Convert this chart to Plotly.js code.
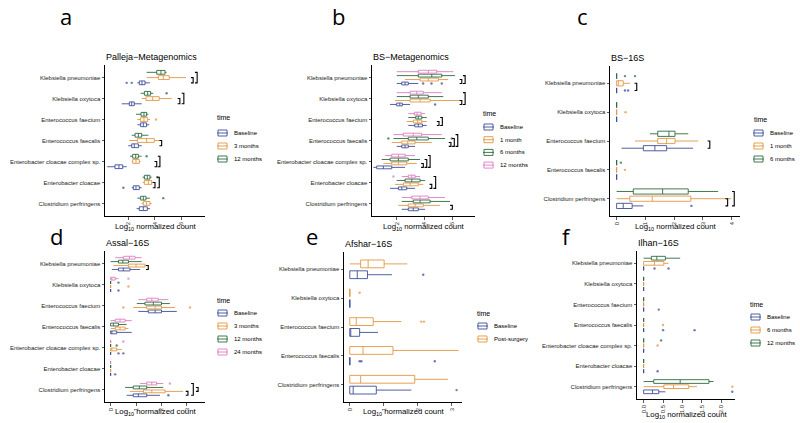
<!DOCTYPE html>
<html><head><meta charset="utf-8">
<script src="https://cdn.plot.ly/plotly-3.0.1.min.js"></script>
<style>html,body{margin:0;padding:0;background:#fff}#chart{width:800px;height:423px}</style>
</head><body><div id="chart"></div>
<script>
// ---------------- categories ----------------
const species7 = ["Klebsiella pneumoniae","Klebsiella oxytoca","Enterococcus faecium","Enterococcus faecalis","Enterobacter cloacae complex sp.","Enterobacter cloacae","Clostridium perfringens"];
const species5 = ["Klebsiella pneumoniae","Klebsiella oxytoca","Enterococcus faecium","Enterococcus faecalis","Clostridium perfringens"];

// box stats per species: [lower whisker, q1, median, q3, upper whisker]  (log10 normalized count)
// ---- a: Palleja-Metagenomics ----
const pallejaGroups = ["Baseline","3 months","12 months"];
const pallejaBaseline = [[2.7,2.85,3.05,3.28,3.65],[1.53,2.1,2.28,2.47,3.03],[2.7,2.95,3.15,3.4,3.6],[2.02,2.28,2.47,2.78,3.03],[0.44,1.02,1.32,1.6,1.9],[2.28,2.4,2.6,2.85,3.03],[2.65,2.85,3.15,3.45,3.65]];
const palleja3Months = [[3.4,4.28,4.65,5.1,6.36],[3.03,3.35,3.86,4.35,5.29],[2.7,2.95,3.2,3.48,3.65],[2.1,2.7,3.4,3.98,4.4],[2.28,2.35,2.6,2.85,2.95],[3.1,3.23,3.53,3.78,4.03],[3.03,3.15,3.4,3.65,3.78]];
const palleja12Months = [[3.4,4.16,4.48,4.78,4.9],[2.95,3.23,3.48,3.7,3.9],[2.6,2.98,3.2,3.4,3.53],[2.28,2.53,2.78,3.03,3.53],[2.15,2.35,2.58,2.78,3.03],[3.1,3.23,3.45,3.65,3.78],[2.7,2.95,3.15,3.35,3.65]];
const pallejaOutlierSpecies = [0,0,1,2,4,5,5,6];
const pallejaOutlierGroup   = [0,0,2,1,2,2,0,2];
const pallejaOutlierValue   = [1.9,2.28,4.9,4.1,3.4,4.2,1.65,4.65];
const pallejaBracketSpecies = [0,0,1,1,3,4,4,5,5];
const pallejaBracketFrom    = [0,0,0,0,0,0,0,0,0];
const pallejaBracketTo      = [1,2,1,2,1,1,2,1,2];
const pallejaBracketValue   = [6.9,7.2,5.9,6.2,4.53,4.16,4.4,4.03,4.35];

// ---- b: BS-Metagenomics ----
const bsMetaGroups = ["Baseline","1 month","6 months","12 months"];
const bsMetaBaseline = [[2.0,2.36,2.6,2.83,3.55],[1.52,2.0,2.22,2.4,2.96],[2.83,3.3,3.55,3.85,4.16],[2.0,2.36,2.6,2.83,3.32],[0.32,0.56,1.04,1.64,2.6],[1.52,2.12,2.36,2.72,3.32],[2.36,2.83,3.19,3.55,4.04]];
const bsMeta1Month = [[2.6,3.68,4.27,5.0,5.7],[1.88,2.96,3.68,4.4,6.68],[2.72,3.19,3.51,3.8,4.16],[1.64,2.36,2.79,3.32,4.52],[1.04,1.64,2.12,2.72,3.44],[1.88,2.47,2.96,3.55,3.91],[2.12,2.83,3.32,3.91,5.12]];
const bsMeta6Months = [[2.0,3.55,4.52,5.24,6.2],[2.0,2.96,3.55,4.27,5.35],[2.83,3.37,3.55,3.8,4.16],[1.76,2.83,3.44,4.27,5.47],[0.92,1.52,2.12,2.83,3.68],[2.0,2.6,3.08,3.68,4.04],[2.36,3.19,3.68,4.4,5.83]];
const bsMeta12Months = [[2.0,3.55,4.27,4.88,6.07],[2.0,2.96,3.44,3.91,5.24],[2.83,3.27,3.46,3.75,4.04],[1.76,2.47,3.19,3.8,5.24],[1.16,1.64,2.12,2.6,3.32],[2.36,2.83,3.08,3.32,3.68],[2.36,3.08,3.68,4.27,5.47]];
const bsMetaOutlierSpecies = [0,0,0,1,3,3,5];
const bsMetaOutlierGroup   = [0,0,0,0,2,2,3];
const bsMetaOutlierValue   = [3.9,4.5,5.24,4.76,1.4,5.96,1.76];
const bsMetaBracketSpecies = [0,0,1,1,2,2,3,3,3,4,4,4,5,5,6];
const bsMetaBracketFrom    = [0,0,0,0,0,0,0,0,0,0,0,0,0,0,0];
const bsMetaBracketTo      = [1,2,1,3,1,2,1,2,3,1,2,3,1,3,1];
const bsMetaBracketValue   = [6.68,6.92,6.68,6.92,5.04,5.28,5.9,6.14,6.39,3.91,4.16,4.4,4.52,4.8,6.0];

// ---- c: BS-16S ----
const bs16Groups = ["Baseline","1 month","6 months"];
const bs16Baseline = [[0,0,0,0,0],[0,0,0,0,0],[0.17,0.93,1.33,1.74,2.66],[0,0,0,0,0],[0,0,0.23,0.54,0.93]];
const bs161Month   = [[0,0,0.06,0.23,0.46],[0,0,0,0,0],[0.64,1.43,1.74,2.03,2.84],[0,0,0,0,0],[0,0.46,1.24,2.58,3.98]];
const bs166Months  = [[0,0,0,0,0],[0,0,0,0,0],[1.16,1.43,1.82,2.03,2.49],[0,0,0,0,0],[0,0.58,1.6,2.49,3.53]];
const bs16OutlierSpecies = [0,0,0,0,1,3,3,4];
const bs16OutlierGroup   = [2,2,0,0,1,2,1,0];
const bs16OutlierValue   = [0.29,0.64,0.29,0.4,0.31,0.15,0.29,2.6];
const bs16BracketSpecies = [0,2,4,4];
const bs16BracketFrom    = [0,0,0,0];
const bs16BracketTo      = [1,1,1,2];
const bs16BracketValue   = [0.7,3.24,3.86,4.09];

// ---- d: Assal-16S ----
const assalGroups = ["Baseline","3 months","12 months","24 months"];
const assalBaseline = [[0.05,0.31,0.5,0.76,1.16],[0,0,0,0,0],[1.09,1.48,1.75,2.0,2.6],[0,0,0.05,0.24,0.83],[0,0,0,0,0],[0,0,0,0,0],[0.63,0.89,1.09,1.42,1.94]];
const assal3Months  = [[0.11,0.7,1.0,1.35,1.42],[0,0,0,0,0],[0.89,1.42,1.75,2.0,2.53],[0,0.18,0.37,0.57,0.7],[0,0,0.05,0.24,0.44],[0,0,0,0,0],[0.76,1.29,1.62,2.14,2.85]];
const assal12Months = [[0,0.31,0.48,0.7,1.22],[0,0,0,0,0],[1.03,1.35,1.68,2.0,2.33],[0,0,0.11,0.31,0.63],[0,0,0,0,0],[0,0,0,0,0],[0.57,0.89,1.13,1.42,2.07]];
const assal24Months = [[0.18,0.5,0.74,0.96,1.22],[0,0,0.05,0.18,0.31],[1.09,1.42,1.62,1.87,2.27],[0,0.18,0.37,0.57,0.83],[0,0,0,0,0],[0,0,0,0,0],[1.16,1.42,1.62,1.81,2.07]];
const assalOutlierSpecies = [1,1,1,1,2,2,4,4,4,4,5,6,6];
const assalOutlierGroup   = [3,2,1,0,1,1,3,2,0,0,0,3,0];
const assalOutlierValue   = [0.7,0.31,0.7,0.31,0.5,3.12,0.5,0.24,0.31,0.5,0.18,2.33,2.27];
const assalBracketSpecies = [0,6,6,6];
const assalBracketFrom    = [0,0,0,1];
const assalBracketTo      = [1,1,3,2];
const assalBracketValue   = [1.48,3.04,3.25,3.44];

// ---- e: Afshar-16S ----
const afsharGroups = ["Baseline","Post-surgery"];
const afsharBaseline    = [[0,0,0.22,0.52,1.24],[0,0,0,0,0],[0,0,0,0.29,0.83],[0,0,0,0,0],[0,0,0.1,0.78,1.81]];
const afsharPostSurgery = [[0,0.32,0.54,1.01,1.69],[0,0,0,0,0],[0,0,0.19,0.69,1.52],[0,0,0.39,1.27,3.2],[0,0,0.32,1.91,2.89]];
const afsharOutlierSpecies = [0,1,2,2,3,3,3,4];
const afsharOutlierGroup   = [0,1,1,1,0,0,0,0];
const afsharOutlierValue   = [2.16,0.29,2.1,2.18,0.29,0.34,2.5,3.14];

// ---- f: Ilhan-16S ----
const ilhanGroups = ["Baseline","6 months","12 months"];
const ilhanBaseline  = [[0,0,0,0,0],[0,0,0,0,0],[0,0,0,0,0],[0,0,0,0,0],[0,0,0,0,0],[0,0,0,0,0],[0,0,0.23,0.39,0.56]];
const ilhan6Months   = [[0,0,0.28,0.52,0.64],[0,0,0,0,0],[0,0,0,0,0],[0,0,0,0,0],[0,0,0,0,0],[0,0,0,0,0],[0,0.52,0.77,1.16,1.37]];
const ilhan12Months  = [[0,0.2,0.34,0.56,0.94],[0,0,0,0,0],[0,0,0,0,0],[0,0,0,0,0],[0,0,0,0,0],[0,0,0,0,0],[0,0.26,0.94,1.68,1.8]];
const ilhanOutlierSpecies = [0,0,2,3,3,3,4,4,5,6,6];
const ilhanOutlierGroup   = [0,0,0,1,0,0,2,1,0,1,0];
const ilhanOutlierValue   = [0.28,0.64,0.39,0.5,0.5,1.31,0.45,0.36,0.36,2.28,2.28];

// ---------------- styling / layout ----------------
const BLUE='#3D4E98', ORANGE='#E59640', GREEN='#2D6B41', PINK='#E07CBF';
const W=800, H=423;
const FONT='"Liberation Sans", Arial, sans-serif';

const panels = [
 {letter:'a', title:'Palleja\u2212Metagenomics', cats:species7, groups:pallejaGroups, colors:[BLUE,ORANGE,GREEN],
  data:[pallejaBaseline,palleja3Months,palleja12Months],
  out:[pallejaOutlierSpecies,pallejaOutlierGroup,pallejaOutlierValue],
  br:[pallejaBracketSpecies,pallejaBracketFrom,pallejaBracketTo,pallejaBracketValue],
  px:[105,205], py:[65,216], range:[0.27,7.79], ticks:[2,4,6], fmt:'d', letterPos:[66,16],
  leg:{title:[215,118], key:217, text:232, y0:133, dy:13}, xlab:11},
 {letter:'b', title:'BS\u2212Metagenomics', cats:species7, groups:bsMetaGroups, colors:[BLUE,ORANGE,GREEN,PINK],
  data:[bsMetaBaseline,bsMeta1Month,bsMeta6Months,bsMeta12Months],
  out:[bsMetaOutlierSpecies,bsMetaOutlierGroup,bsMetaOutlierValue],
  br:[bsMetaBracketSpecies,bsMetaBracketFrom,bsMetaBracketTo,bsMetaBracketValue],
  px:[372,475], py:[65,216], range:[0.22,7.63], ticks:[2,4,6], fmt:'d', letterPos:[338,16],
  leg:{title:[481,113], key:483, text:498, y0:127, dy:12.7}, xlab:11},
 {letter:'c', title:'BS\u221216S', cats:species5, groups:bs16Groups, colors:[BLUE,ORANGE,GREEN],
  data:[bs16Baseline,bs161Month,bs166Months],
  out:[bs16OutlierSpecies,bs16OutlierGroup,bs16OutlierValue],
  br:[bs16BracketSpecies,bs16BracketFrom,bs16BracketTo,bs16BracketValue],
  px:[610,740], py:[66,216], range:[-0.23,4.29], ticks:[0,1,2,3,4], fmt:'d', letterPos:[582,16],
  leg:{title:[752,119], key:753, text:768, y0:133, dy:13}, xlab:11},
 {letter:'d', title:'Assal\u221216S', cats:species7, groups:assalGroups, colors:[BLUE,ORANGE,GREEN,PINK],
  data:[assalBaseline,assal3Months,assal12Months,assal24Months],
  out:[assalOutlierSpecies,assalOutlierGroup,assalOutlierValue],
  br:[assalBracketSpecies,assalBracketFrom,assalBracketTo,assalBracketValue],
  px:[105,205], py:[251,402], range:[-0.22,3.71], ticks:[0,1,2,3], fmt:'d', letterPos:[57,236],
  leg:{title:[215,300], key:217, text:232, y0:313, dy:13}, xlab:10},
 {letter:'e', title:'Afshar\u221216S', cats:species5, groups:afsharGroups, colors:[BLUE,ORANGE],
  data:[afsharBaseline,afsharPostSurgery],
  out:[afsharOutlierSpecies,afsharOutlierGroup,afsharOutlierValue],
  br:null,
  px:[344,462], py:[252,402], range:[-0.17,3.3], ticks:[0,1,2,3], fmt:'d', letterPos:[312,236],
  leg:{title:[475,313], key:477, text:492, y0:326, dy:13}, xlab:10},
 {letter:'f', title:'Ilhan\u221216S', cats:species7, groups:ilhanGroups, colors:[BLUE,ORANGE,GREEN],
  data:[ilhanBaseline,ilhan6Months,ilhan12Months],
  out:[ilhanOutlierSpecies,ilhanOutlierGroup,ilhanOutlierValue],
  br:null,
  px:[637,735], py:[251,399], range:[-0.17,2.35], ticks:[0,0.5,1,1.5,2], fmt:'.1f', letterPos:[566,236],
  leg:{title:[748,304], key:750, text:765, y0:317, dy:13}, xlab:16}
];

const traces=[], annotations=[], shapes=[];
const layout = {width:W, height:H, margin:{l:0,r:0,t:0,b:0}, paper_bgcolor:'#fff', plot_bgcolor:'#fff',
  boxmode:'overlay', font:{family:FONT, color:'#000'}, hovermode:false, showlegend:false};
const PX = x => x/W, PY = y => 1 - y/H;

panels.forEach((p,pi)=>{
  const sfx = pi===0 ? '' : String(pi+1);
  const xa='x'+sfx, ya='y'+sfx;
  const n=p.cats.length, G=p.groups.length;
  const step=0.75/G;
  const pos=(i,g)=> i + ((G-1)/2 - g)*step;
  p.groups.forEach((gname,g)=>{
    const rows=p.data[g];
    traces.push({type:'box', orientation:'h', xaxis:xa, yaxis:ya, name:gname, showlegend:false,
      y: rows.map((r,i)=>pos(i,g)),
      lowerfence: rows.map(r=>r[0]), q1: rows.map(r=>r[1]), median: rows.map(r=>r[2]),
      q3: rows.map(r=>r[3]), upperfence: rows.map(r=>r[4]),
      width: step*0.72, boxpoints:false, whiskerwidth:0,
      fillcolor:'rgba(255,255,255,0.9)', line:{color:p.colors[g], width:0.9}, hoverinfo:'skip'});
  });
  // outliers
  const [oc,og,ov]=p.out;
  traces.push({type:'scatter', mode:'markers', xaxis:xa, yaxis:ya, showlegend:false, hoverinfo:'skip',
    x: ov, y: oc.map((c,k)=>pos(c,og[k])),
    marker:{size:2.4, color: og.map(g=>p.colors[g]), opacity:0.75}});
  // significance brackets
  if(p.br){
    const [bc,bf,bt,bv]=p.br;
    const tick=(p.range[1]-p.range[0])*2.2/(p.px[1]-p.px[0]);
    const bx=[], by=[];
    bc.forEach((c,k)=>{
      const y1=pos(c,bf[k]), y2=pos(c,bt[k]);
      bx.push(bv[k]-tick, bv[k], bv[k], bv[k]-tick, null);
      by.push(y1, y1, y2, y2, null);
    });
    traces.push({type:'scatter', mode:'lines', xaxis:xa, yaxis:ya, showlegend:false, hoverinfo:'skip',
      x:bx, y:by, line:{color:'#000', width:1.1}, connectgaps:false});
  }
  layout['xaxis'+sfx] = {domain:[PX(p.px[0]), PX(p.px[1])], anchor:ya, range:p.range,
    tickmode:'array', tickvals:p.ticks, ticktext:p.ticks.map(v=>p.fmt==='d'?String(v):v.toFixed(1)),
    tickangle:-90, ticks:'outside', ticklen:2.5, tickwidth:0.8, tickcolor:'#333',
    showline:true, linecolor:'#000', linewidth:1, showgrid:false, zeroline:false,
    tickfont:{size:6, color:'#333', family:FONT}, fixedrange:true};
  layout['yaxis'+sfx] = {domain:[PY(p.py[1]), PY(p.py[0])], anchor:xa, range:[n-1+0.6,-0.6],
    tickmode:'array', tickvals:p.cats.map((c,i)=>i), ticktext:p.cats,
    ticks:'outside', ticklen:2.5, tickwidth:0.8, tickcolor:'#333',
    showline:true, linecolor:'#000', linewidth:1, showgrid:false, zeroline:false,
    tickfont:{size:6, color:'#222', family:FONT}, fixedrange:true};
  // legend (drawn as keys + text)
  const L=p.leg;
  annotations.push({xref:'paper', yref:'paper', x:PX(L.title[0]), y:PY(L.title[1]), xanchor:'left', yanchor:'middle',
    text:'time', showarrow:false, font:{size:7, family:FONT, color:'#000'}});
  p.groups.forEach((gname,g)=>{
    const cy=L.y0+g*L.dy, k=L.key, col=p.colors[g];
    shapes.push({type:'rect', xref:'paper', yref:'paper', x0:PX(k+1), x1:PX(k+10), y0:PY(cy+3), y1:PY(cy-3),
      line:{color:col, width:0.9}, fillcolor:'#fff'});
    shapes.push({type:'line', xref:'paper', yref:'paper', x0:PX(k+1), x1:PX(k+10), y0:PY(cy), y1:PY(cy),
      line:{color:col, width:0.9}});
    shapes.push({type:'line', xref:'paper', yref:'paper', x0:PX(k), x1:PX(k+1), y0:PY(cy), y1:PY(cy),
      line:{color:col, width:0.9}});
    shapes.push({type:'line', xref:'paper', yref:'paper', x0:PX(k+10), x1:PX(k+11), y0:PY(cy), y1:PY(cy),
      line:{color:col, width:0.9}});
    annotations.push({xref:'paper', yref:'paper', x:PX(L.text), y:PY(cy), xanchor:'left', yanchor:'middle',
      text:gname, showarrow:false, font:{size:6, family:FONT, color:'#000'}});
  });
  // panel title
  annotations.push({xref:'paper', yref:'paper', x:PX(p.px[0]-1), y:PY(p.py[0]-8), xanchor:'left', yanchor:'middle',
    text:p.title, showarrow:false, font:{size:9, family:FONT, color:'#000'}});
  // x axis label
  annotations.push({xref:'paper', yref:'paper', x:PX((p.px[0]+p.px[1])/2), y:PY(p.py[1]+p.xlab), xanchor:'center', yanchor:'middle',
    text:'Log<sub>10</sub> normalized count', showarrow:false, font:{size:7.8, family:FONT, color:'#000'}});
  // panel letter
  annotations.push({xref:'paper', yref:'paper', x:PX(p.letterPos[0]), y:PY(p.letterPos[1]), xanchor:'center', yanchor:'middle',
    text:p.letter, showarrow:false, font:{size:22, family:'"Open Sans", "Liberation Sans", sans-serif', color:'#000'}});
});
layout.annotations = annotations;
layout.shapes = shapes;

Plotly.newPlot('chart', traces, layout, {staticPlot:true, displayModeBar:false});
</script>
</body></html>
